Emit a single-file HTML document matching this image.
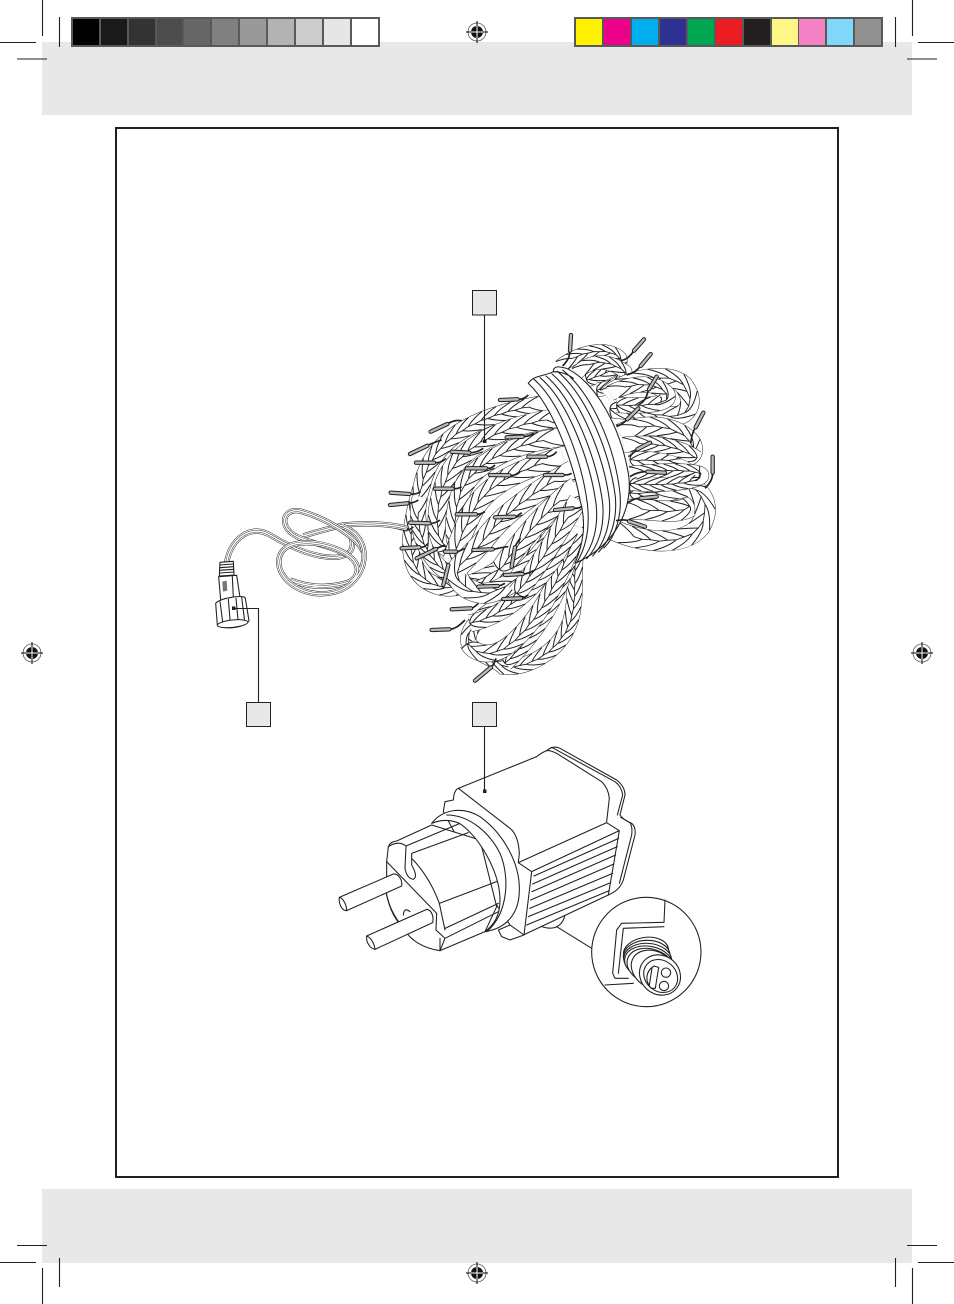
<!DOCTYPE html>
<html><head><meta charset="utf-8"><style>
html,body{margin:0;padding:0;background:#fff}
svg{display:block}
.k{fill:none;stroke:#231f20;stroke-width:1.1}
.z{fill:none;stroke:#231f20;stroke-width:3.2;stroke-linecap:round;stroke-linejoin:round}
.w{fill:#fff;stroke:#231f20;stroke-width:3.2;stroke-linejoin:round}
.ca{fill:none;stroke:#222;stroke-width:16}
.cb{fill:none;stroke:#fff;stroke-width:13}
.cc{fill:none;stroke:#333;stroke-width:7.5}
.cd{fill:none;stroke:#fff;stroke-width:4.5}
.la{fill:none;stroke:#231f20;stroke-width:13;stroke-linecap:round}
.lb{fill:none;stroke:#bbb;stroke-width:7;stroke-linecap:round}
.wi{fill:none;stroke:#231f20;stroke-width:5}
</style></head><body>
<svg xmlns="http://www.w3.org/2000/svg" width="954" height="1304" viewBox="0 0 954 1304">
<rect width="954" height="1304" fill="#fff"/>
<rect x="42" y="42" width="870" height="73" fill="#e8e8e8"/>
<rect x="42" y="1189" width="870" height="74" fill="#e8e8e8"/>
<rect x="116" y="128" width="722" height="1049" fill="#fff" stroke="#231f20" stroke-width="2"/>

<!-- colour bars -->
<rect x="71" y="17" width="309" height="30" fill="#58595b"/>
<rect x="73" y="19" width="26" height="26" fill="#000"/><rect x="101" y="19" width="26" height="26" fill="#1a1a1a"/><rect x="129" y="19" width="26" height="26" fill="#333"/><rect x="157" y="19" width="25" height="26" fill="#4d4d4d"/><rect x="184" y="19" width="26" height="26" fill="#666"/><rect x="212" y="19" width="26" height="26" fill="#808080"/><rect x="240" y="19" width="26" height="26" fill="#999"/><rect x="268" y="19" width="26" height="26" fill="#b3b3b3"/><rect x="296" y="19" width="26" height="26" fill="#ccc"/><rect x="324" y="19" width="26" height="26" fill="#e6e6e6"/><rect x="352" y="19" width="26" height="26" fill="#fff"/>
<rect x="574" y="17" width="309" height="30" fill="#58595b"/>
<rect x="576" y="19" width="26" height="26" fill="#fff200"/><rect x="604" y="19" width="26" height="26" fill="#ec008c"/><rect x="632" y="19" width="26" height="26" fill="#00aeef"/><rect x="660" y="19" width="26" height="26" fill="#2e3192"/><rect x="688" y="19" width="26" height="26" fill="#00a651"/><rect x="716" y="19" width="26" height="26" fill="#ed1c24"/><rect x="744" y="19" width="26" height="26" fill="#231f20"/><rect x="772" y="19" width="26" height="26" fill="#fff685"/><rect x="799" y="19" width="26" height="26" fill="#f680c4"/><rect x="827" y="19" width="26" height="26" fill="#80d6fb"/><rect x="855" y="19" width="26" height="26" fill="#929090"/>

<!-- crop marks -->
<path class="k" d="M42.5 0V36M59.5 17V47M0 42.5H36M17 59H47M912.5 0V36M895.5 17V47M918 42.5H954M907 59H937M17 1245.5H47M0 1262.5H36M59.5 1258V1287M42.5 1268V1304M907 1245.5H937M918 1262.5H954M895.5 1258V1287M912.5 1268V1304"/>

<!-- registration marks -->
<g id="reg"><circle cx="477" cy="32" r="9" fill="#fff" stroke="#555" stroke-width=".8"/><circle cx="477" cy="32" r="6" fill="#111"/><path d="M477 21V43M466 32H488" stroke="#000" stroke-width="1"/><path d="M477 26V38M471 32H483" stroke="#fff" stroke-width="1"/></g>
<use href="#reg" y="1241"/><use href="#reg" x="-445" y="621"/><use href="#reg" x="445" y="621"/>

<!-- rope bundle -->
<g transform="translate(390 330) scale(.33333)">
<g id="ropes"></g>

<!-- wrapped band -->
<path class="w" d="M415 160C430 135 460 140 490 125C490 105 510 110 530 115C620 160 690 290 715 430C730 520 690 640 555 700C580 640 590 580 570 510C550 400 490 230 415 160Z"/>
<path class="z" d="M432 148C510 215 575 390 592 520C600 590 590 650 560 698M450 143C532 210 600 390 618 520C626 590 610 650 575 692M468 138C552 208 622 390 638 520C644 590 626 648 590 686M486 132C572 205 642 380 658 510C664 580 644 640 608 678M502 124C588 195 658 360 676 500C682 570 662 630 626 666M518 120C604 190 674 345 690 490C696 560 676 620 642 654M490 125C510 125 530 130 550 145"/>

<!-- wires -->
<path class="wi" d="M540 65C538 85 530 95 518 108M730 65C715 85 705 90 692 92M750 110C735 128 725 130 710 135M775 180C770 200 765 215 745 225M915 295C905 310 905 325 902 340M968 430C968 450 955 465 945 475M770 425C750 425 735 430 720 440M750 505C735 505 725 510 712 520M715 572C700 568 690 570 678 572M710 270C700 280 690 285 680 290M740 360C730 368 725 375 715 380M385 208C395 208 405 205 415 195M175 280C190 272 200 270 215 272M115 345C130 338 140 335 155 330M135 398C145 398 155 398 168 385M60 492C70 493 80 493 92 485M55 520C65 518 75 518 85 510M50 598C55 600 60 600 70 590M120 580C130 580 140 578 150 570M190 476C200 476 205 476 215 470M90 652C100 652 105 650 115 640M240 368C255 368 265 365 280 355M290 415C300 415 305 415 315 405M360 436C370 436 380 436 390 425M400 320C410 320 420 318 432 310M470 380C480 380 490 378 500 365M520 435C530 435 535 435 545 430M550 535C560 535 565 535 575 530M260 553C270 553 275 550 285 545M375 560C380 560 385 555 395 548M200 665C205 665 215 660 225 655M310 658C325 656 340 650 355 650M140 655C150 650 155 650 165 645M375 650C380 640 385 630 392 625M160 765C165 745 170 725 175 705M400 732C410 732 420 728 435 720M325 768C330 768 335 765 345 760M395 805C400 805 405 800 415 795M245 835C250 833 255 830 265 820M180 898C195 896 205 890 225 870M305 1010C310 1005 315 995 318 985"/>
<!-- bulbs -->
<path class="la" d="M543 15L540 62M762 28L732 62M782 72L752 108M800 140L777 178M940 248L917 292M968 380V428M825 428L772 425M800 500L752 505M765 590L717 574M745 235L712 268M780 338L742 358M330 210L383 208M122 305L172 282M60 372L112 347M78 398L132 398M2 488L58 492M0 525L52 520M0 585L48 598M60 578L118 580M135 476L188 476M35 655L88 652M185 365L238 368M230 415L288 415M300 435L358 436M350 322L398 320M415 380L468 380M465 435L518 435M495 540L548 535M200 553L258 553M315 562L373 560M165 665L198 665M250 660L308 658M80 685L138 657M365 710L375 652M175 705L160 765M345 735L398 732M265 770L323 768M340 807L393 805M185 838L243 835M125 900L178 898M255 1052L303 1012"/>
<path class="lb" d="M543 15L540 62M762 28L732 62M782 72L752 108M800 140L777 178M940 248L917 292M968 380V428M825 428L772 425M800 500L752 505M765 590L717 574M745 235L712 268M780 338L742 358M330 210L383 208M122 305L172 282M60 372L112 347M78 398L132 398M2 488L58 492M0 525L52 520M0 585L48 598M60 578L118 580M135 476L188 476M35 655L88 652M185 365L238 368M230 415L288 415M300 435L358 436M350 322L398 320M415 380L468 380M465 435L518 435M495 540L548 535M200 553L258 553M315 562L373 560M165 665L198 665M250 660L308 658M80 685L138 657M365 710L375 652M175 705L160 765M345 735L398 732M265 770L323 768M340 807L393 805M185 838L243 835M125 900L178 898M255 1052L303 1012"/>
</g>

<!-- cable and connector -->
<defs>
<path id="c1" d="M620 85C570 72 510 68 430 75C390 85 340 98 310 108"/>
<path id="c5" d="M450 245C400 262 340 268 270 240"/>
<path id="c2" d="M430 80C490 100 510 170 475 225C440 280 370 290 320 275C250 255 215 190 250 150C290 110 400 130 450 170C480 195 480 225 450 245"/>
<path id="c3" d="M80 188C90 120 150 70 210 105C260 135 340 175 410 172C465 165 465 130 445 95"/>
<path id="c4" d="M490 155C470 110 380 55 300 33C260 25 240 60 265 90C290 125 380 130 440 165"/>
</defs>
<g transform="translate(200 500) scale(.33333)">
<use href="#c1" class="ca"/><use href="#c1" class="cb"/><use href="#c1" class="cc"/><use href="#c1" class="cd"/>
<use href="#c5" class="ca"/><use href="#c5" class="cb"/><use href="#c5" class="cc"/><use href="#c5" class="cd"/>
<use href="#c3" class="ca"/><use href="#c3" class="cb"/><use href="#c3" class="cc"/><use href="#c3" class="cd"/>
<use href="#c4" class="ca"/><use href="#c4" class="cb"/><use href="#c4" class="cc"/><use href="#c4" class="cd"/>
<use href="#c2" class="ca"/><use href="#c2" class="cb"/><use href="#c2" class="cc"/><use href="#c2" class="cd"/>
<path class="w" d="M60 187L100 184L102 225L58 228Z"/>
<path class="z" d="M60 195L100 192M60 203L101 200M59 211L101 208M59 219L102 216"/>
<path class="w" d="M56 230L110 226L120 292L62 300Z"/>
<path class="z" d="M97 230L100 292"/>
<path d="M67 245L80 242L82 272L69 275Z" fill="#777"/>
<path class="w" d="M47 310C60 295 120 285 135 292C140 315 143 340 147 362C130 385 70 390 52 375Z"/>
<path class="z" d="M60 305L70 380M85 298L92 383M108 295L116 380M125 292L135 372"/>
<ellipse cx="98" cy="371" rx="46" ry="11" fill="#fff" stroke="#231f20" stroke-width="3" transform="rotate(-6 98 371)"/>
</g>

<!-- adapter -->
<g transform="translate(330 740) scale(.33333)">
<path class="w" d="M635 560C680 575 700 550 705 525L640 540Z"/>
<path class="w" d="M385 145L620 50Q635 38 650 32Q670 15 690 25L860 120Q885 140 885 165L870 225Q880 240 905 250Q918 260 915 285L880 420Q870 450 835 465L580 585L540 555L450 420L340 215L345 185L370 180Q372 150 385 145Z"/>
<path class="z" d="M665 22L855 125Q875 140 878 165L862 225M872 232L900 248Q908 260 905 285L868 430M650 32Q660 30 680 40L815 125Q835 145 838 175L830 245M385 145L540 265Q565 285 568 340L565 368L830 248L868 272L835 465M565 368L605 395L868 272M605 395L582 585"/>
<path class="z" d="M612 408L866 295M608 432L862 320M606 455L857 345M602 480L852 372M599 505L848 400M595 530L842 428M590 555L838 452"/>
<path class="w" d="M505 570L515 590L540 600L582 585L540 555Z"/>
<!-- plug body -->
<path class="w" d="M170 365L175 320Q180 305 200 303L305 255L450 300L500 500L465 575L330 632C280 625 240 600 225 570C195 540 180 510 170 465Z"/>
<path class="z" d="M170 365L320 520L318 570L345 595L330 632M170 465C180 510 200 540 225 570M330 632V595M345 595L505 515M345 565L505 490"/>
<path class="z" d="M175 320Q205 300 228 318L225 385Q230 415 250 418Q265 410 245 375L245 340L415 278M228 318L390 250M245 355C280 390 310 440 328 490L345 570M328 490L500 425M240 515Q222 500 220 525"/>
<!-- collar -->
<path class="w" d="M305 250C340 205 400 200 450 230C520 280 570 370 568 450C568 520 530 565 465 575C490 555 510 530 510 480C510 400 450 290 388 250C360 238 330 240 305 250Z"/>
<path class="z" d="M350 225C420 225 480 280 510 340C540 410 535 520 470 575"/>
<!-- pins -->
<path class="w" d="M28 472L190 402C205 400 218 420 215 438L50 512C35 512 25 490 28 472Z"/>
<path class="z" d="M28 472C40 475 50 495 50 512"/>
<path class="w" d="M110 588L290 508C305 510 312 530 308 548L135 628C118 625 108 605 110 588Z"/>
<path class="z" d="M110 588C122 592 133 610 135 628"/>
<!-- inset -->
<path class="z" d="M680 560L785 625"/>
<circle cx="949" cy="636" r="164" fill="#fff" stroke="#231f20" stroke-width="3.2"/>
<path class="z" d="M1005 480L1002 547L875 550L860 570L848 700L855 715H895M1002 560L880 565L865 700M825 735L910 730"/>
<g class="w">
<ellipse cx="948" cy="636" rx="68" ry="44" transform="rotate(-8 948 636)"/>
<ellipse cx="950" cy="647" rx="70" ry="46" transform="rotate(-2 950 647)"/>
<ellipse cx="953" cy="658" rx="72" ry="48" transform="rotate(4 953 658)"/>
<ellipse cx="957" cy="669" rx="74" ry="50" transform="rotate(12 957 669)"/>
<ellipse cx="963" cy="680" rx="74" ry="52" transform="rotate(20 963 680)"/>
<ellipse cx="972" cy="690" rx="72" ry="55" transform="rotate(30 972 690)"/>
</g>
<ellipse cx="990" cy="705" rx="64" ry="58" class="w" transform="rotate(40 990 705)"/>
<ellipse cx="992" cy="708" rx="54" ry="46" class="w" transform="rotate(40 992 708)"/>
<circle cx="1008" cy="698" r="14" class="w"/><circle cx="1002" cy="738" r="14" class="w"/>
<path class="z" d="M972 678L986 682L976 745L964 745C945 725 945 695 972 678ZM966 685L958 735"/>
</g>

<!-- callouts -->
<path d="M484.5 315V441M258.5 702V608.5H233M484.5 726V791" fill="none" stroke="#231f20" stroke-width="1.1"/>
<rect x="483" y="439.5" width="3.5" height="3.5" fill="#231f20"/><rect x="232" y="606.5" width="3.5" height="3.5" fill="#231f20"/><rect x="483" y="789.5" width="3.5" height="3.5" fill="#231f20"/>
<rect x="472.5" y="290.5" width="24" height="24.5" fill="#e8e8e8" stroke="#231f20" stroke-width="1"/>
<rect x="246.5" y="702.5" width="24" height="24" fill="#e8e8e8" stroke="#231f20" stroke-width="1"/>
<rect x="472.5" y="702.5" width="24" height="24" fill="#e8e8e8" stroke="#231f20" stroke-width="1"/>
</svg>
<script>
(function(){
var NS="http://www.w3.org/2000/svg",host=document.getElementById("ropes");
var R=[
["M510 110C570 60 660 50 690 85C700 110 640 135 590 150",40],
["M560 130C600 90 650 85 705 125C715 150 670 175 620 180",40],
["M650 200C700 150 830 120 880 165C915 210 900 250 860 258C820 262 730 240 660 235",55],
["M660 190C720 160 790 150 830 190C850 220 780 230 680 225",45],
["M690 310C770 270 870 290 905 340C925 385 890 395 720 390",55],
["M700 345C780 335 860 345 920 385",45],
["M670 600C760 640 880 650 930 590C965 530 935 485 900 470C870 470 840 490 720 490",60],
["M690 540C780 530 850 560 900 530",60],
["M720 430C800 420 950 415 935 440C920 460 800 470 720 460",40],
["M575 560C545 640 560 790 550 830C540 950 420 1020 340 1010C320 990 270 975 240 950C215 900 280 840 400 790",45],
["M555 620C520 760 470 880 345 1000",48],
["M565 590C520 720 450 880 350 950C300 985 250 970 235 940",50],
["M540 600C480 720 380 850 240 880",50],
["M470 220C300 250 130 300 95 470C50 620 40 740 150 770C260 795 450 650 560 470",50],
["M90 500C70 580 100 690 190 740",45],
["M530 260C360 280 200 340 160 470C130 560 140 640 170 650",55],
["M520 320C380 340 260 390 215 480C190 550 190 620 205 650",55],
["M520 380C420 410 300 450 250 540C220 600 200 650 190 690",60],
["M550 420C460 470 350 540 290 620C260 660 220 690 200 720C200 770 250 790 290 790C400 770 500 620 570 490",60],
["M560 470C480 530 400 620 330 720",60],
["M565 510C510 600 440 720 380 790",55]
];
function mk(d,c,w,f){var p=document.createElementNS(NS,"path");p.setAttribute("d",d);p.setAttribute("fill",f||"none");p.setAttribute("stroke",c);p.setAttribute("stroke-width",w);host.appendChild(p);return p;}
R.forEach(function(r){
 var d=r[0],w=r[1];
 mk(d,"#231f20",w+3);
 var base=mk(d,"#fff",w);
 var L=base.getTotalLength(),pitch=Math.max(30,w*.85),t="";
 function at(s){s=Math.max(0,Math.min(L,s));var a=base.getPointAtLength(s),b=base.getPointAtLength(Math.min(L,s+1)),c=base.getPointAtLength(Math.max(0,s-1));
  var tx=b.x-c.x,ty=b.y-c.y,m=Math.hypot(tx,ty)||1;return{x:a.x,y:a.y,nx:-ty/m,ny:tx/m};}
 function off(s,o){var p=at(s);return (p.x+p.nx*o).toFixed(1)+" "+(p.y+p.ny*o).toFixed(1);}
 var i=0;
 for(var s=0;s<L;s+=pitch/2,i++){
  var sd=i%2?1:-1,h=w/2;
  t+="M"+off(s,sd*h)+"Q"+off(s+pitch*.9,sd*h*.55)+" "+off(s+pitch*1.3,sd*h*.02);
 }
 var sp="";i=0;
 for(s=0;s<L;s+=pitch/2,i++){sp+=(i?"L":"M")+off(s+pitch*1.3,(i%2?1:-1)*w*.02);}
 mk(t,"#231f20",3);
 mk(sp,"#231f20",2.6);
});
})();
</script>
</body></html>
